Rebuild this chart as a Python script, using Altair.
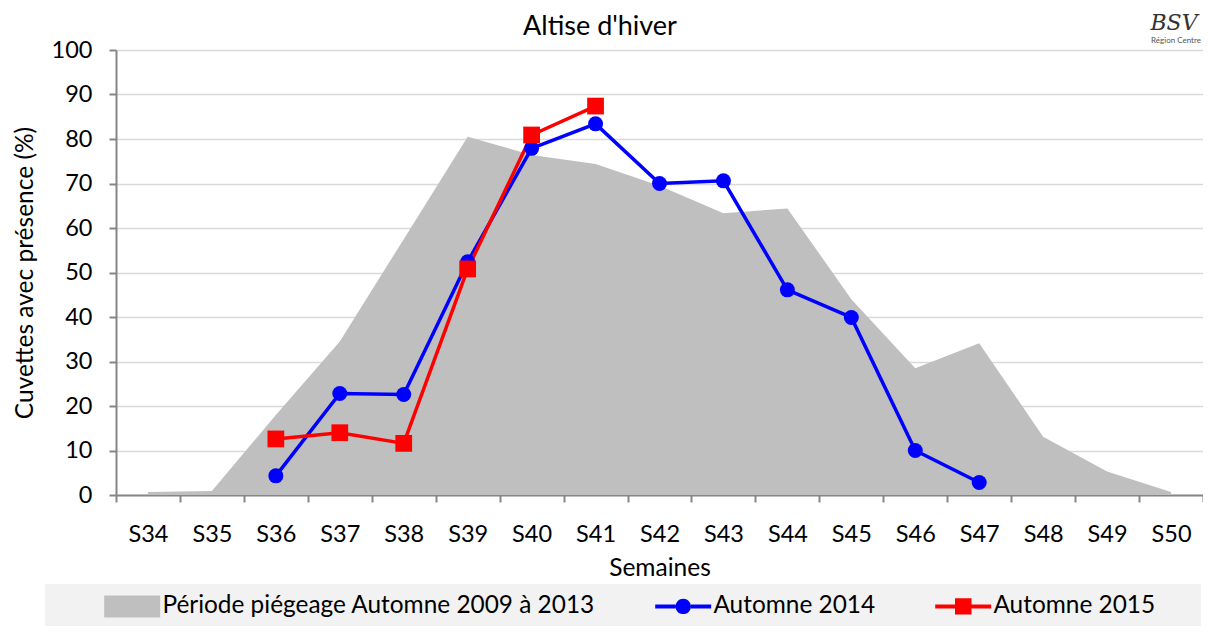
import altair as alt
import pandas as pd

# ---- data ----
semaines = ["S34", "S35", "S36", "S37", "S38", "S39", "S40", "S41", "S42",
            "S43", "S44", "S45", "S46", "S47", "S48", "S49", "S50"]
periode_2009_2013 = [0.7, 0.9, 18.0, 34.5, 57.5, 80.5, 76.4, 74.4, 69.5,
                     63.3, 64.4, 44.0, 28.5, 34.1, 13.1, 5.3, 0.7]
semaines_2014 = ["S36", "S37", "S38", "S39", "S40", "S41", "S42", "S43",
                 "S44", "S45", "S46", "S47"]
automne_2014 = [4.3, 22.8, 22.6, 52.4, 77.9, 83.4, 70.0, 70.6, 46.1, 39.9, 10.0, 2.8]
semaines_2015 = ["S36", "S37", "S38", "S39", "S40", "S41"]
automne_2015 = [12.6, 14.0, 11.6, 50.8, 80.9, 87.4]
series = ["Période piégeage Automne 2009 à 2013", "Automne 2014", "Automne 2015"]
titre = ["Altise d'hiver"]
logo_texte = ["BSV"]
logo_sous_texte = ["Région Centre"]

df_area = pd.DataFrame({"semaine": semaines, "valeur": periode_2009_2013})
df_2014 = pd.DataFrame({"semaine": semaines_2014, "valeur": automne_2014})
df_2015 = pd.DataFrame({"semaine": semaines_2015, "valeur": automne_2015})
df_leg = pd.DataFrame({"serie": series})

FONT = "Lato"
GREY = "#bfbfbf"
BLUE = "#0000ff"
RED = "#ff0000"

x_enc = alt.X("semaine:O", sort=semaines, scale=alt.Scale(domain=semaines),
              axis=alt.Axis(title="Semaines", labelAngle=0, tickBand="extent",
                            grid=False))
y_enc = alt.Y("valeur:Q", scale=alt.Scale(domain=[0, 100], nice=False),
              axis=alt.Axis(title="Cuvettes avec présence (%)",
                            values=list(range(0, 101, 10)), grid=True))

area = alt.Chart(df_area).mark_area(color=GREY, opacity=1).encode(x=x_enc, y=y_enc)

line14 = alt.Chart(df_2014).mark_line(color=BLUE, strokeWidth=3.5).encode(x=x_enc, y=y_enc)
pts14 = alt.Chart(df_2014).mark_point(filled=True, shape="circle", size=225,
                                       color=BLUE, opacity=1).encode(x=x_enc, y=y_enc)
line15 = alt.Chart(df_2015).mark_line(color=RED, strokeWidth=3.5).encode(x=x_enc, y=y_enc)
pts15 = alt.Chart(df_2015).mark_point(filled=True, shape="square", size=280,
                                       color=RED, opacity=1).encode(x=x_enc, y=y_enc)

# legend background box
leg_bg = alt.Chart(pd.DataFrame({"k": [0]})).mark_rect(color="#f2f2f2").encode(
    x=alt.value(-71), x2=alt.value(1085), y=alt.value(534), y2=alt.value(576))

# legend-only layer (no visible marks); symbol unit = 11 px (symbolSize 484)
rect_path = "M-1,-1H4.09V1H-1Z"
circ_path = ("M-1,-0.18H0.85V0.18H-1Z M2.25,-0.18H4.09V0.18H2.25Z "
             "M2.25,0A0.7,0.7 0 1,1 0.85,0A0.7,0.7 0 1,1 2.25,0Z")
sq_path = ("M-1,-0.18H0.85V0.18H-1Z M2.25,-0.18H4.09V0.18H2.25Z "
           "M0.8,-0.74H2.3V0.74H0.8Z")

leg_props = dict(title=None, orient="none", legendX=-13, legendY=544,
                 direction="horizontal", padding=0,
                 labelFont=FONT, labelFontSize=24.4, labelColor="#000000",
                 symbolSize=484, symbolStrokeWidth=0, columnPadding=58,
                 labelOffset=35, symbolOpacity=1, labelLimit=700)

legend_layer = alt.Chart(df_leg).transform_filter("false").mark_point(
    filled=True, opacity=1).encode(
    color=alt.Color("serie:N", scale=alt.Scale(domain=series, range=[GREY, BLUE, RED]),
                    legend=alt.Legend(**leg_props)),
    shape=alt.Shape("serie:N", scale=alt.Scale(domain=series,
                                               range=[rect_path, circ_path, sq_path]),
                    legend=alt.Legend(**leg_props)),
)

title_mark = alt.Chart(pd.DataFrame({"t": titre})).mark_text(
    font=FONT, fontSize=27, color="#000000", align="center", baseline="alphabetic").encode(
    text="t:N", x=alt.value(484), y=alt.value(-15))

logo = alt.Chart(pd.DataFrame({"t": logo_texte})).mark_text(
    font="DejaVu Serif", fontStyle="italic", fontSize=22, color="#333333",
    align="center", baseline="alphabetic").encode(
    text="t:N", x=alt.value(1058), y=alt.value(-20))
logo2 = alt.Chart(pd.DataFrame({"t": logo_sous_texte})).mark_text(
    font=FONT, fontSize=8, color="#555555", align="center", baseline="alphabetic").encode(
    text="t:N", x=alt.value(1060), y=alt.value(-7))

chart = alt.layer(leg_bg, area, line14, line15, pts14, pts15, legend_layer,
                  title_mark, logo, logo2).properties(
    width=1087, height=445,
    autosize=alt.AutoSizeParams(type="none"),
    padding={"left": 108, "top": 42, "right": 0, "bottom": 131},
).configure_view(stroke=None).configure_axis(
    labelFont=FONT, titleFont=FONT, labelFontSize=23.5, titleFontSize=24.5,
    labelColor="#000000", titleColor="#000000", titleFontWeight="normal",
    domainColor="#868686", domainWidth=2, tickColor="#868686", tickWidth=2,
    tickSize=7, gridColor="#d9d9d9", gridWidth=1.5,
).configure_axisX(labelPadding=20, titlePadding=11).configure_axisY(
    labelPadding=17, titlePadding=14)

chart.save("out.html", embed_options={"renderer": "svg", "actions": False})
